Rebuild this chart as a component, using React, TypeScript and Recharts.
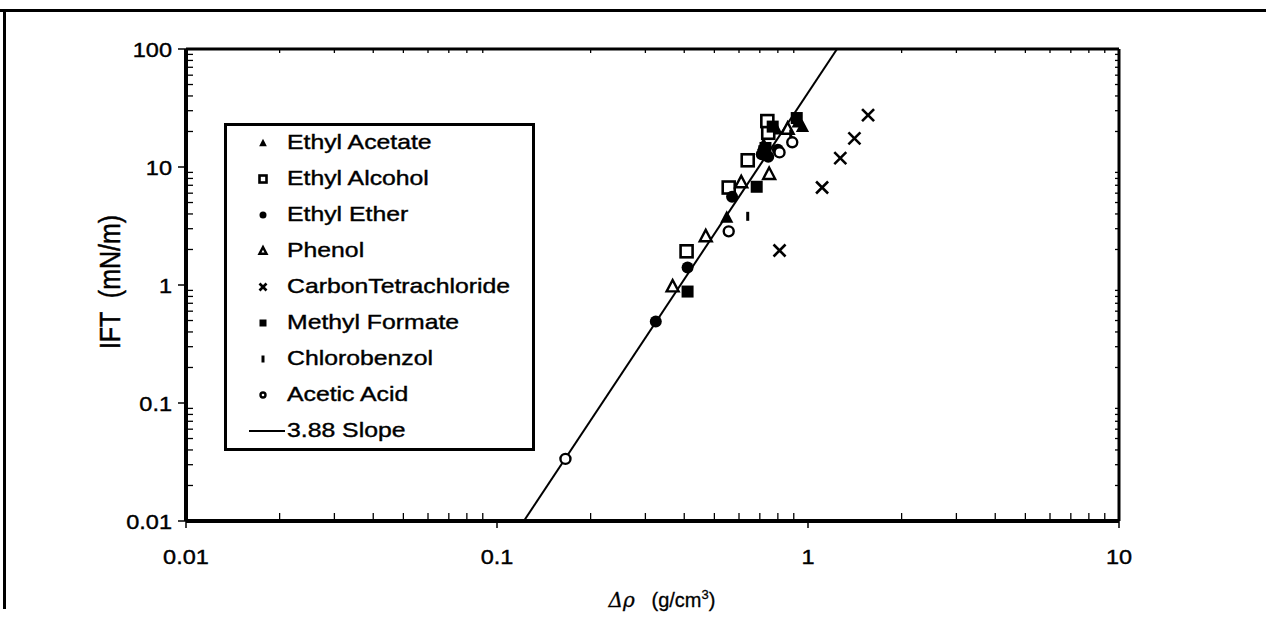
import { ScatterChart, Scatter, XAxis, YAxis } from "recharts";

// values (log-log)
const xMajorTicks = [0.01, 0.1, 1, 10];
const yMajorTicks = [0.01, 0.1, 1, 10, 100];
const xMinorTicks = [
  0.02, 0.03, 0.04, 0.05, 0.06, 0.07, 0.08, 0.09,
  0.2, 0.3, 0.4, 0.5, 0.6, 0.7, 0.8, 0.9,
  2, 3, 4, 5, 6, 7, 8, 9,
];
const yMinorTicks = [
  0.02, 0.03, 0.04, 0.05, 0.06, 0.07, 0.08, 0.09,
  0.2, 0.3, 0.4, 0.5, 0.6, 0.7, 0.8, 0.9,
  2, 3, 4, 5, 6, 7, 8, 9,
  20, 30, 40, 50, 60, 70, 80, 90,
];

const ethylAcetate = [
  { x: 0.548, y: 3.74 },
  { x: 0.72, y: 15.5 },
  { x: 0.79, y: 21 },
  { x: 0.93, y: 24 },
  { x: 0.96, y: 22 },
];
const ethylAlcohol = [
  { x: 0.407, y: 1.93 },
  { x: 0.556, y: 6.7 },
  { x: 0.64, y: 11.4 },
  { x: 0.745, y: 19.5 },
  { x: 0.74, y: 24.5 },
];
const ethylEther = [
  { x: 0.324, y: 0.49 },
  { x: 0.41, y: 1.41 },
  { x: 0.57, y: 5.6 },
  { x: 0.71, y: 12.8 },
  { x: 0.745, y: 12.2 },
  { x: 0.8, y: 14 },
];
const phenol = [
  { x: 0.367, y: 0.97 },
  { x: 0.469, y: 2.58 },
  { x: 0.61, y: 7.4 },
  { x: 0.75, y: 8.7 },
  { x: 0.86, y: 21 },
];
const carbonTetrachloride = [
  { x: 0.81, y: 1.96 },
  { x: 1.11, y: 6.7 },
  { x: 1.27, y: 11.9 },
  { x: 1.41, y: 17.5 },
  { x: 1.56, y: 27.5 },
];
const methylFormate = [
  { x: 0.41, y: 0.88 },
  { x: 0.684, y: 6.8 },
  { x: 0.73, y: 14.5 },
  { x: 0.77, y: 22 },
  { x: 0.92, y: 26 },
];
const chlorobenzol = [
  { x: 0.64, y: 3.82 },
  { x: 0.7, y: 14 },
  { x: 0.88, y: 19 },
];
const aceticAcid = [
  { x: 0.166, y: 0.0336 },
  { x: 0.556, y: 2.85 },
  { x: 0.81, y: 13.3 },
  { x: 0.89, y: 16.2 },
];
const slopeLine = [
  { x: 0.122, y: 0.01 },
  { x: 1.24, y: 100 },
];

const INK = "#000";
const FONT = "'Liberation Sans', Arial, Helvetica, sans-serif";

type MarkProps = { cx?: number; cy?: number; s: number };

function FilledTriangle({ cx = 0, cy = 0, s }: MarkProps) {
  return (
    <polygon
      points={`${cx},${cy - s * 0.6} ${cx - s * 0.55},${cy + s * 0.45} ${cx + s * 0.55},${cy + s * 0.45}`}
      fill={INK}
    />
  );
}
function OpenTriangle({ cx = 0, cy = 0, s }: MarkProps) {
  return (
    <polygon
      points={`${cx},${cy - s * 0.55} ${cx - s * 0.5},${cy + s * 0.4} ${cx + s * 0.5},${cy + s * 0.4}`}
      fill="#fff"
      stroke={INK}
      strokeWidth={2.4}
    />
  );
}
function OpenSquare({ cx = 0, cy = 0, s }: MarkProps) {
  return (
    <rect x={cx - s / 2} y={cy - s / 2} width={s} height={s} fill="#fff" stroke={INK} strokeWidth={2.6} />
  );
}
function FilledSquare({ cx = 0, cy = 0, s }: MarkProps) {
  return <rect x={cx - s / 2} y={cy - s / 2} width={s} height={s} fill={INK} />;
}
function FilledCircle({ cx = 0, cy = 0, s }: MarkProps) {
  return <circle cx={cx} cy={cy} r={s / 2} fill={INK} />;
}
function OpenCircle({ cx = 0, cy = 0, s }: MarkProps) {
  return <circle cx={cx} cy={cy} r={s / 2 - 1} fill="#fff" stroke={INK} strokeWidth={2.4} />;
}
function Cross({ cx = 0, cy = 0, s }: MarkProps) {
  const h = s / 2;
  return (
    <g stroke={INK} strokeWidth={2.6}>
      <line x1={cx - h} y1={cy - h} x2={cx + h} y2={cy + h} />
      <line x1={cx - h} y1={cy + h} x2={cx + h} y2={cy - h} />
    </g>
  );
}
function Tick({ cx = 0, cy = 0, s }: MarkProps) {
  return <rect x={cx - 1.5} y={cy - s / 2} width={3} height={s} fill={INK} />;
}

const seriesList = [
  { name: "Ethyl Acetate", data: ethylAcetate, Mark: FilledTriangle },
  { name: "Ethyl Alcohol", data: ethylAlcohol, Mark: OpenSquare },
  { name: "Ethyl Ether", data: ethylEther, Mark: FilledCircle },
  { name: "Phenol", data: phenol, Mark: OpenTriangle },
  { name: "CarbonTetrachloride", data: carbonTetrachloride, Mark: Cross },
  { name: "Methyl Formate", data: methylFormate, Mark: FilledSquare },
  { name: "Chlorobenzol", data: chlorobenzol, Mark: Tick },
  { name: "Acetic Acid", data: aceticAcid, Mark: OpenCircle },
];

const axisLine = { stroke: INK, strokeWidth: 4 };
const thinFrame = { stroke: INK, strokeWidth: 3 };
const majorLine = { stroke: INK, strokeWidth: 1.5 };
const minorLine = { stroke: INK, strokeWidth: 1.3 };

// the scan is stretched sideways, so the labels get a little x-stretch too
function XTickLabel({ x, y, payload }: { x?: number; y?: number; payload?: { value: number } }) {
  return (
    <g transform={`translate(${x},${y})`}>
      <text
        transform="scale(1.12,1)"
        textAnchor="middle"
        dy="0.71em"
        fill={INK}
        stroke={INK}
        strokeWidth={0.4}
        fontSize={21}
        fontFamily={FONT}
      >
        {String(payload?.value)}
      </text>
    </g>
  );
}
function YTickLabel({ x, y, payload }: { x?: number; y?: number; payload?: { value: number } }) {
  return (
    <g transform={`translate(${x},${y})`}>
      <text
        transform="scale(1.12,1)"
        textAnchor="end"
        dy="0.36em"
        fill={INK}
        stroke={INK}
        strokeWidth={0.4}
        fontSize={21}
        fontFamily={FONT}
      >
        {String(payload?.value)}
      </text>
    </g>
  );
}
// minor ticks: line only, no label
function NoLabel() {
  return <g />;
}

const textStretch = {
  display: "inline-block",
  transform: "scaleX(1.18)",
  transformOrigin: "left center",
  whiteSpace: "nowrap" as const,
};

function Legend() {
  return (
    <div
      style={{
        position: "absolute",
        left: 224,
        top: 123,
        width: 311,
        height: 328,
        border: "3px solid #000",
        boxSizing: "border-box",
        background: "#fff",
        fontFamily: FONT,
        fontSize: 21,
        color: INK,
        WebkitTextStroke: "0.4px #000",
      }}
    >
      {seriesList.map(({ name, Mark }, i) => (
        <div
          key={name}
          style={{ position: "absolute", left: 0, top: 1 + i * 36, height: 30, display: "flex", alignItems: "center" }}
        >
          <svg width={60} height={30} style={{ display: "block" }}>
            <Mark cx={36} cy={16} s={7} />
          </svg>
          <span style={textStretch}>{name}</span>
        </div>
      ))}
      <div style={{ position: "absolute", left: 0, top: 1 + 8 * 36, height: 30, display: "flex", alignItems: "center" }}>
        <svg width={60} height={30} style={{ display: "block" }}>
          <line x1={22} x2={58} y1={16} y2={16} stroke={INK} strokeWidth={2} />
        </svg>
        <span style={textStretch}>3.88 Slope</span>
      </div>
    </div>
  );
}

export default function App() {
  return (
    <div style={{ position: "fixed", left: 0, top: 0, width: 1266, height: 630, background: "#fff", overflow: "hidden" }}>
      {/* scan frame */}
      <div style={{ position: "absolute", left: 0, top: 9, width: 1266, height: 3, background: INK }} />
      <div style={{ position: "absolute", left: 3, top: 9, width: 3, height: 600, background: INK }} />

      <ScatterChart width={1266} height={630} margin={{ top: 49, right: 147, bottom: 108, left: 185 }}>
        <XAxis
          type="number"
          dataKey="x"
          scale="log"
          domain={[0.01, 10]}
          ticks={xMajorTicks}
          allowDataOverflow
          height={1}
          axisLine={axisLine}
          tickLine={majorLine}
          tickSize={7}
          tickMargin={21}
          tick={<XTickLabel />}
        />
        <XAxis
          xAxisId="minor"
          type="number"
          dataKey="x"
          scale="log"
          domain={[0.01, 10]}
          ticks={xMinorTicks}
          interval={0}
          allowDataOverflow
          height={1}
          mirror
          axisLine={false}
          tickLine={minorLine}
          tickSize={8}
          tick={<NoLabel />}
        />
        <XAxis
          xAxisId="top"
          orientation="top"
          type="number"
          dataKey="x"
          scale="log"
          domain={[0.01, 10]}
          ticks={xMinorTicks}
          interval={0}
          allowDataOverflow
          height={1}
          mirror
          axisLine={thinFrame}
          tickLine={minorLine}
          tickSize={4}
          tick={<NoLabel />}
        />
        <YAxis
          type="number"
          dataKey="y"
          scale="log"
          domain={[0.01, 100]}
          ticks={yMajorTicks}
          allowDataOverflow
          width={1}
          axisLine={axisLine}
          tickLine={majorLine}
          tickSize={8}
          tickMargin={6}
          tick={<YTickLabel />}
        />
        <YAxis
          yAxisId="minor"
          type="number"
          dataKey="y"
          scale="log"
          domain={[0.01, 100]}
          ticks={yMinorTicks}
          interval={0}
          allowDataOverflow
          width={1}
          mirror
          axisLine={false}
          tickLine={minorLine}
          tickSize={7}
          tick={<NoLabel />}
        />
        <YAxis
          yAxisId="right"
          orientation="right"
          type="number"
          dataKey="y"
          scale="log"
          domain={[0.01, 100]}
          ticks={yMinorTicks}
          interval={0}
          allowDataOverflow
          width={1}
          mirror
          axisLine={thinFrame}
          tickLine={minorLine}
          tickSize={4}
          tick={<NoLabel />}
        />
        <Scatter
          name="3.88 Slope"
          data={slopeLine}
          line={{ stroke: INK, strokeWidth: 2 }}
          shape={() => <g />}
          isAnimationActive={false}
        />
        {seriesList.map(({ name, data, Mark }) => (
          <Scatter
            key={name}
            name={name}
            data={data}
            isAnimationActive={false}
            shape={(p: { cx?: number; cy?: number }) => <Mark cx={p.cx} cy={p.cy} s={name === "Chlorobenzol" ? 9 : 12} />}
          />
        ))}
      </ScatterChart>

      <Legend />

      <div
        style={{
          position: "absolute",
          left: 0,
          width: 1266,
          top: 587,
          textAlign: "center",
          paddingLeft: 58,
          boxSizing: "border-box",
          fontFamily: FONT,
          fontSize: 20,
          color: INK,
          whiteSpace: "pre",
          WebkitTextStroke: "0.3px #000",
        }}
      >
        <span style={{ fontStyle: "italic", fontFamily: "'DejaVu Serif', serif" }}>Δρ</span>
        {"   (g/cm"}
        <sup style={{ fontSize: 13 }}>3</sup>
        {")"}
      </div>
      <div
        style={{
          position: "absolute",
          left: 110,
          top: 282,
          transform: "translate(-50%, -50%) scaleX(1.15) rotate(-90deg)",
          fontFamily: FONT,
          fontSize: 25,
          color: INK,
          whiteSpace: "pre",
          WebkitTextStroke: "0.4px #000",
        }}
      >
        {"IFT  (mN/m)"}
      </div>
    </div>
  );
}
